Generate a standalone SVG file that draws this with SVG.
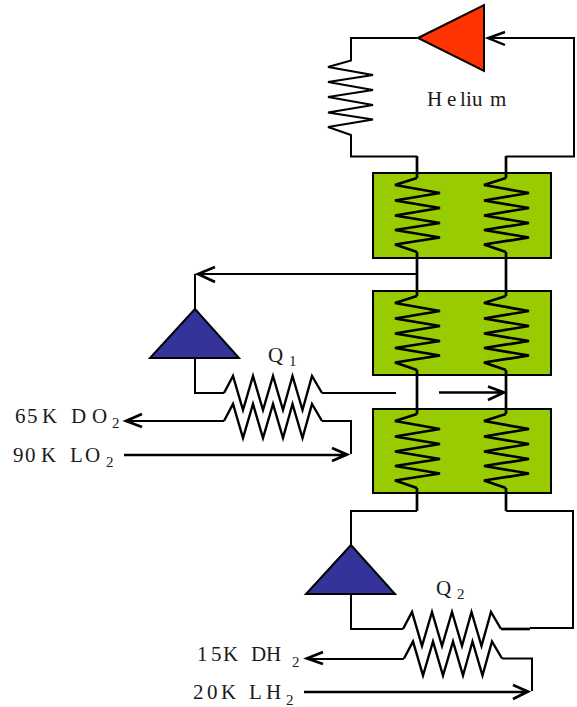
<svg xmlns="http://www.w3.org/2000/svg" width="577" height="707" viewBox="0 0 577 707">
<style>
text{font-family:"Liberation Serif","Times New Roman",serif;font-size:21px;fill:#1a1a1a}
.sub{font-size:15px}
.box{fill:#99cc00;stroke:#000;stroke-width:2}
.tri{stroke:#000;stroke-width:2;stroke-linejoin:miter}
.blue{fill:#333399}
.red{fill:#ff3300}
.w{fill:none;stroke:#000;stroke-width:2}
.z{fill:none;stroke:#000;stroke-width:2.400}
.t{fill:none;stroke:#000;stroke-width:2.700}
</style>
<defs>
<path id="coil" class="t" d="M417 178L395 185L440 193L395 200.500L440 208L395 215.500L440 223L395 230L440 237.500L395 244.500L417 252"/>
<path id="zig" class="z" d="M224 0L233 -17L243 17L253 -17L263 17L273 -17L283 17L292.500 -17L302.500 17L312 -17L322 0"/>
</defs>
<g id="hx1"><rect class="box" x="373" y="173" width="178" height="85"/></g>
<g id="hx2"><rect class="box" x="373" y="291" width="178" height="84"/></g>
<g id="hx3"><rect class="box" x="373" y="409" width="178" height="84"/></g>
<g id="connectors">
<use href="#coil"/><use href="#coil" x="89"/>
<use href="#coil" y="118"/><use href="#coil" x="89" y="118"/>
<use href="#coil" y="236"/><use href="#coil" x="89" y="236"/>
<path class="w" d="M417 38H351V60.500L328 67L373 75L328 82L373 90L328 97L373 105L328 112.500L373 119.500L328 127L351 135V156.500H417"/>
<path class="w" d="M488 38H574V156.500H506"/>
<path class="z" d="M505 32L488 38L505 45"/>
<path class="t" d="M417 156V178M506 156V178M417 252V296M506 252V296M417 370V414M506 370V414M417 488V511M506 488V511"/>
<path class="w" d="M417 511H351V545"/>
<path class="w" d="M506 511H573V628H530"/>
<path class="w" d="M417 274H198"/>
<path class="t" d="M215 267L198 274L215 282"/>
<path class="w" d="M195 274V309"/>
<path class="w" d="M195 358V393H224"/>
<use href="#zig" y="393"/>
<path class="w" d="M322 393H396"/>
<path class="t" d="M439 392.500H504M488 386.500L504 392.500L488 400"/>
<path class="w" d="M224 421H125"/>
<path class="t" d="M142 414L126 421L142 427"/>
<use href="#zig" y="421"/>
<path class="w" d="M322 421H351V454"/>
<path class="t" d="M124 455H347M332 448L347 454.500L332 461"/>
<path class="w" d="M351 594V629H403"/>
<use href="#zig" transform="translate(179 629)"/>
<path class="t" d="M501 629H530"/>
<path class="w" d="M404 659H308"/>
<path class="t" d="M323 652L307 658.500L323 664"/>
<use href="#zig" transform="translate(180 658.500)"/>
<path class="w" d="M502 658.500H532V691"/>
<path class="t" d="M304 692H528M513 685L528 691.500L513 699"/>
</g>
<g id="compressor"><polygon class="tri red" points="418,38 484,5 484,71"/></g>
<g id="expander1"><polygon class="tri blue" points="195,309 150,358 239,358"/></g>
<g id="expander2"><polygon class="tri blue" points="351,545 306,594 395,594"/></g>
<g id="labels">
<text x="427 447 460 466 472 490" y="106">Helium</text>
<text x="268" y="362">Q</text><text class="sub" x="289" y="366">1</text>
<text x="436" y="595">Q</text><text class="sub" x="457" y="599">2</text>
<text x="15 27 42" y="423">65K</text><text x="71 92" y="423">DO</text><text class="sub" x="112" y="428">2</text>
<text x="13 25 41" y="462">90K</text><text x="70 85" y="462">LO</text><text class="sub" x="106" y="467">2</text>
<text x="197 211 223" y="661">15K</text><text x="251 266" y="661">DH</text><text class="sub" x="292" y="667">2</text>
<text x="193 207 221" y="699">20K</text><text x="249 266" y="699">LH</text><text class="sub" x="286" y="705">2</text>
</g>
</svg>
